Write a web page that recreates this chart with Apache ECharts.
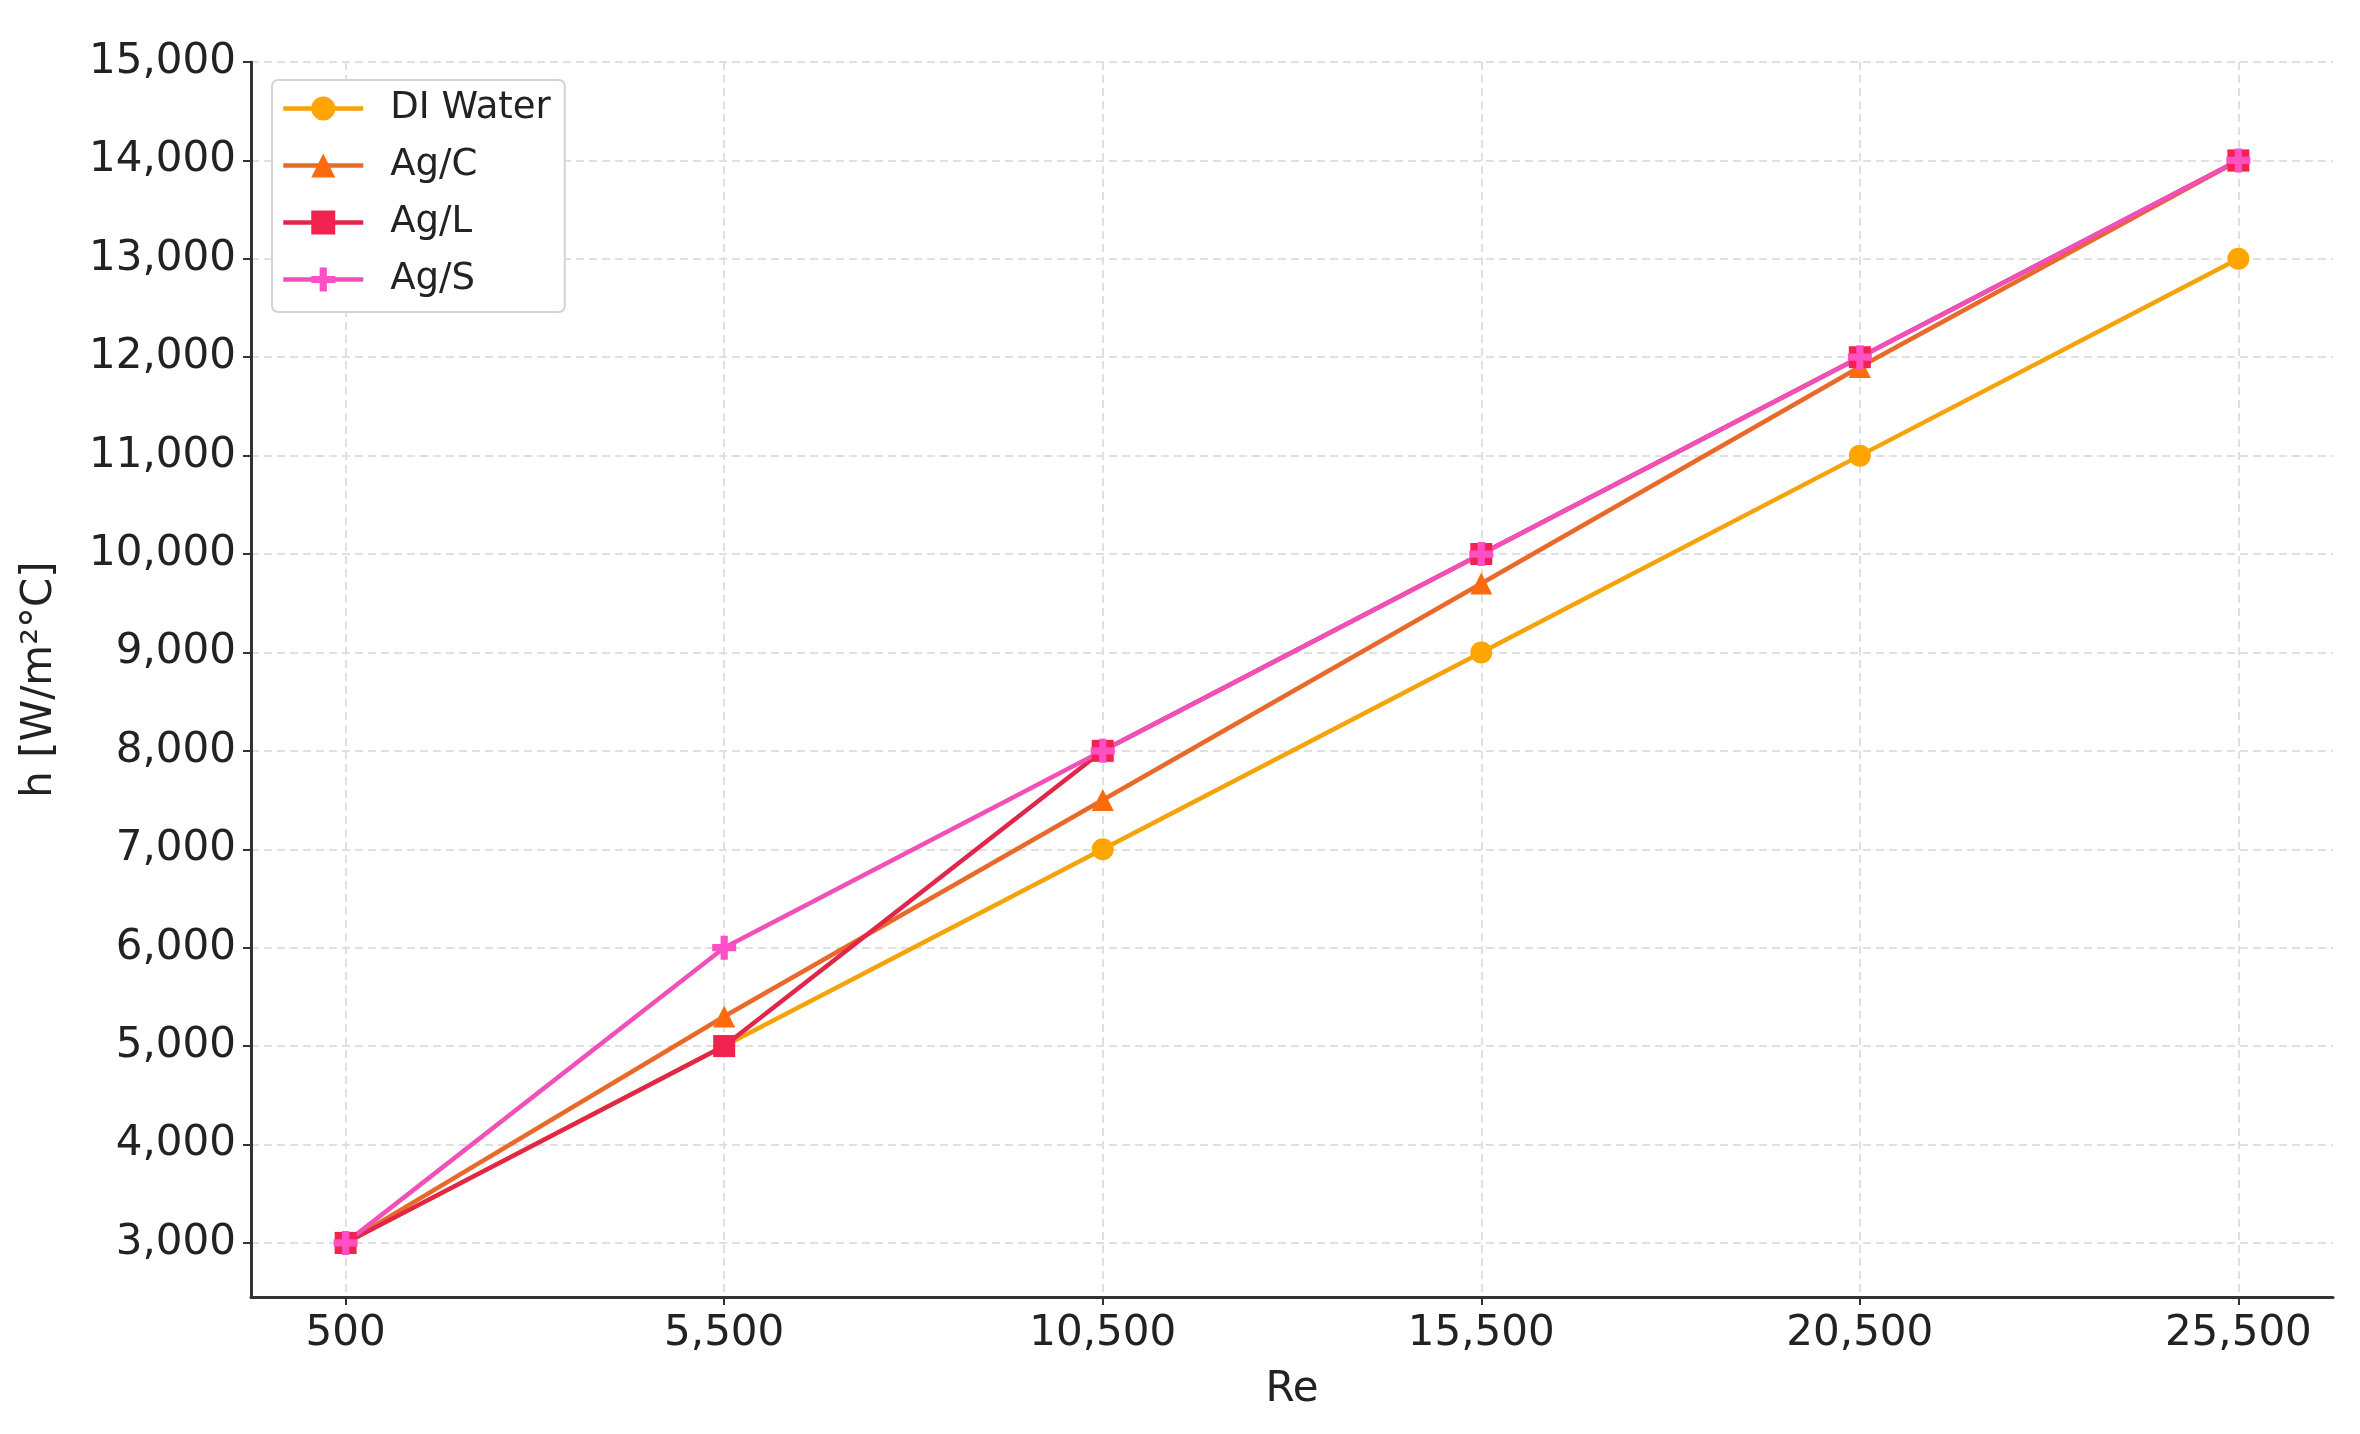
<!DOCTYPE html>
<html>
<head>
<meta charset="utf-8">
<script src="https://cdn.jsdelivr.net/npm/echarts@6/dist/echarts.min.js"></script>
<style>
html,body{margin:0;padding:0;background:#fff;}
#chart{width:2360px;height:1434px;}
</style>
</head>
<body>
<div id="chart"></div>
<script>
var reValues = [500, 5500, 10500, 15500, 20500, 25500];
var diWater = [3000, 5000, 7000, 9000, 11000, 13000];
var agC = [3000, 5300, 7500, 9700, 11900, 14000];
var agL = [3000, 5000, 8000, 10000, 12000, 14000];
var agS = [3000, 6000, 8000, 10000, 12000, 14000];
var xTicks = [500, 5500, 10500, 15500, 20500, 25500];
var yTicks = [3000, 4000, 5000, 6000, 7000, 8000, 9000, 10000, 11000, 12000, 13000, 14000, 15000];
var seriesNames = ['DI Water', 'Ag/C', 'Ag/L', 'Ag/S'];

function pairs(ys){ return reValues.map(function(x,i){ return [x, ys[i]]; }); }
function fmt(v){ return Number(v).toLocaleString('en-US'); }

var plusPath = 'path://M3.5,0 L6.5,0 L6.5,3.5 L10,3.5 L10,6.5 L6.5,6.5 L6.5,10 L3.5,10 L3.5,6.5 L0,6.5 L0,3.5 L3.5,3.5 Z';
var textColor = '#222';
var fontFam = '"DejaVu Sans", sans-serif';

var chart = echarts.init(document.getElementById('chart'), null, {renderer:'canvas'});
var option = {
  backgroundColor: '#fff',
  animation: false,
  grid: {left: 251, right: 27, top: 62, bottom: 137, containLabel: false},
  legend: {
    orient: 'vertical',
    left: 272, top: 80,
    padding: [10, 14, 14, 9],
    itemGap: 20,
    itemWidth: 80,
    itemHeight: 30,
    backgroundColor: '#fff',
    borderColor: '#d4d4d4',
    borderWidth: 2,
    borderRadius: 6,
    data: seriesNames,
    lineStyle: {width: 4.5},
    textStyle: {fontFamily: fontFam, fontSize: 37, color: textColor, lineHeight: 37, padding: [0,0,0,22]}
  },
  xAxis: {
    type: 'value',
    min: -750, max: 26750,
    name: 'Re',
    nameLocation: 'middle',
    nameGap: 72,
    nameTextStyle: {fontFamily: fontFam, fontSize: 42, color: textColor},
    axisLine: {show: true, onZero: false, lineStyle: {color: '#333', width: 3}},
    axisTick: {show: true, inside: false, length: 8, lineStyle: {color: '#333', width: 2}, customValues: xTicks},
    axisLabel: {fontFamily: fontFam, fontSize: 42, color: textColor, margin: 16, customValues: xTicks, formatter: fmt},
    splitLine: {show: true, lineStyle: {color: '#e0e0e0', width: 2, type: [8, 5]}}
  },
  yAxis: {
    type: 'value',
    min: 2450, max: 15000,
    name: 'h [W/m²°C]',
    nameLocation: 'middle',
    nameGap: 190,
    nameTextStyle: {fontFamily: fontFam, fontSize: 42, color: textColor},
    axisLine: {show: true, onZero: false, lineStyle: {color: '#333', width: 3}},
    axisTick: {show: true, inside: false, length: 8, lineStyle: {color: '#333', width: 2}, customValues: yTicks},
    axisLabel: {fontFamily: fontFam, fontSize: 42, color: textColor, margin: 15, customValues: yTicks, formatter: fmt},
    splitLine: {show: true, lineStyle: {color: '#e0e0e0', width: 2, type: [8, 5]}}
  },
  series: [
    {name: 'DI Water', type: 'line', data: pairs(diWater), symbol: 'circle', symbolSize: 22,
     itemStyle: {color: '#FFA500'}, lineStyle: {color: '#F5A30A', width: 4.5}},
    {name: 'Ag/C', type: 'line', data: pairs(agC), symbol: 'triangle', symbolSize: 22,
     itemStyle: {color: '#FF6A0F'}, lineStyle: {color: '#E8692A', width: 4.5}},
    {name: 'Ag/L', type: 'line', data: pairs(agL), symbol: 'rect', symbolSize: 22,
     itemStyle: {color: '#F0224F'}, lineStyle: {color: '#E0264A', width: 4.5}},
    {name: 'Ag/S', type: 'line', data: pairs(agS), symbol: plusPath, symbolSize: 24,
     itemStyle: {color: '#FF4FC4'}, lineStyle: {color: '#F050B8', width: 4.5}}
  ]
};
chart.setOption(option);
</script>
</body>
</html>
